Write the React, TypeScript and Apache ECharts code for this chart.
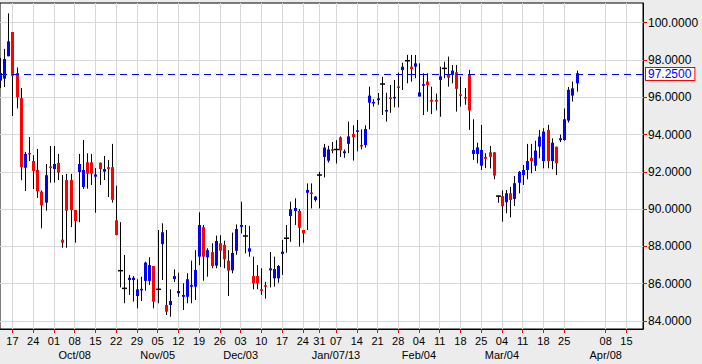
import React, { useEffect, useRef } from "react";
import * as echarts from "echarts";

// calendar of the category axis (trading days)
const firstDay = "2012-09-12";
const lastDay = "2013-04-19";
const holidays = ["2012-12-25", "2013-01-01"];

const weekTicks = [
  "2012-09-17", "2012-09-24", "2012-10-01", "2012-10-08", "2012-10-15", "2012-10-22", "2012-10-29",
  "2012-11-05", "2012-11-12", "2012-11-19", "2012-11-26", "2012-12-03", "2012-12-10", "2012-12-17",
  "2012-12-24", "2012-12-31", "2013-01-07", "2013-01-14", "2013-01-21", "2013-01-28", "2013-02-04",
  "2013-02-11", "2013-02-18", "2013-02-25", "2013-03-04", "2013-03-11", "2013-03-18", "2013-03-25",
  "2013-04-08", "2013-04-15",
];
const monthTickDates = ["2012-10-08", "2012-11-05", "2012-12-03", "2013-01-07", "2013-02-04", "2013-03-04", "2013-04-08"];
const monthTickTexts = ["Oct/08", "Nov/05", "Dec/03", "Jan/07/13", "Feb/04", "Mar/04", "Apr/08"];

const yTicks = [84, 86, 88, 90, 92, 94, 96, 98, 100];
const lastPrice = 97.25;

const opens = [
  96.9, 97.0, 98.2, 99.5, 97.3, 95.95, 92.22, 93.0, 92.58, 92.1,
  90.94, 90.35, 92.28, 92.15, 92.48, 88.36, 91.56, 91.56, 89.95, 91.99,
  91.19, 92.51, 92.51, 91.74, 92.49, 92.01, 92.25, 92.25, 89.4, 86.7,
  85.75, 86.2, 86.2, 85.34, 85.65, 86.15, 86.15, 86.95, 85.7, 88.12,
  84.86, 84.86, 86.25, 85.49, 85.3, 85.3, 85.84, 85.84, 87.45, 89.03,
  87.42, 87.69, 86.97, 88.17, 88.08, 87.24, 86.72, 87.77, 89.05, 88.56,
  87.72, 86.41, 86.41, 85.68, 85.9, 86.72, 86.29, 86.29, 87.6, 88.44,
  89.63, 89.9, 89.9, 88.88, 90.88, 90.87, 90.49, 91.83, 92.8, 92.6,
  93.2, 93.2, 93.85, 93.0, 93.5, 94.03, 94.15, 93.42, 93.44, 95.71,
  95.7, 95.85, 96.71, 95.25, 95.97, 95.96, 96.56, 97.46, 97.96, 97.64,
  97.64, 96.04, 96.64, 96.84, 95.86, 95.86, 96.93, 97.55, 97.2, 97.2,
  97.34, 96.14, 96.0, 97.2, 92.96, 92.96, 92.33, 92.8, 93.05, 93.05,
  90.7, 90.7, 90.37, 90.85, 90.55, 91.42, 91.83, 92.1, 92.75, 92.33,
  93.35, 92.58, 94.25, 92.58, 93.35, 93.7, 93.71, 94.75, 96.09, 96.75,
];
const highs = [
  98.1, 98.6, 100.5, 99.5, 97.6, 96.5, 93.07, 93.87, 92.9, 93.23,
  91.0, 92.42, 93.39, 93.39, 92.96, 91.83, 91.89, 91.89, 89.95, 92.96,
  93.71, 93.0, 92.96, 92.2, 92.5, 92.85, 92.64, 93.5, 91.26, 89.3,
  87.54, 86.47, 86.41, 86.24, 86.37, 87.18, 87.42, 86.95, 88.88, 89.24,
  88.88, 85.7, 86.77, 86.59, 86.02, 86.56, 87.24, 87.8, 89.83, 89.15,
  87.9, 88.17, 88.58, 88.6, 88.31, 87.8, 88.74, 89.18, 90.4, 89.15,
  89.1, 87.45, 87.0, 86.83, 86.1, 87.7, 87.45, 87.0, 88.35, 89.15,
  90.4, 90.58, 90.0, 88.88, 91.38, 91.38, 90.7, 92.0, 93.5, 93.4,
  93.6, 93.7, 93.9, 93.2, 94.7, 94.5, 94.78, 94.28, 94.5, 96.57,
  95.9, 96.23, 97.1, 96.24, 96.66, 96.93, 97.32, 97.85, 98.27, 98.27,
  98.27, 97.82, 97.29, 97.29, 96.57, 96.2, 97.64, 97.91, 98.18, 97.73,
  97.73, 97.1, 96.5, 97.47, 94.82, 93.56, 94.52, 93.0, 93.39, 93.05,
  90.72, 91.0, 91.03, 91.2, 91.78, 92.05, 92.37, 93.5, 93.5, 93.67,
  94.25, 94.34, 94.52, 93.8, 93.35, 94.0, 95.4, 96.55, 96.84, 97.43,
];
const lows = [
  96.5, 96.55, 98.2, 95.0, 95.4, 91.55, 90.97, 92.58, 91.08, 90.6,
  88.97, 89.92, 91.42, 91.42, 91.56, 87.93, 87.93, 89.04, 88.2, 89.3,
  91.08, 91.1, 91.3, 89.81, 91.3, 91.56, 90.65, 90.35, 88.6, 85.8,
  84.95, 85.4, 85.04, 84.68, 85.07, 85.62, 85.93, 84.68, 84.95, 86.2,
  84.32, 84.23, 86.09, 85.3, 84.59, 84.95, 84.95, 85.13, 87.0, 86.16,
  86.38, 86.83, 86.83, 86.9, 86.83, 85.34, 86.56, 87.55, 88.7, 87.63,
  87.45, 85.7, 85.7, 85.4, 85.2, 85.8, 85.84, 86.05, 86.47, 87.66,
  88.25, 89.15, 87.99, 88.2, 88.88, 90.04, 90.4, 90.04, 91.7, 92.5,
  93.0, 92.45, 92.8, 92.75, 93.0, 92.6, 93.1, 93.2, 93.3, 94.28,
  95.5, 95.6, 95.05, 94.7, 95.17, 95.46, 95.46, 96.39, 96.75, 96.84,
  97.02, 96.04, 95.05, 95.23, 95.1, 95.3, 94.96, 97.02, 96.57, 96.75,
  95.23, 95.5, 95.6, 94.25, 92.64, 92.46, 92.1, 92.2, 92.19, 91.6,
  90.35, 89.33, 89.78, 89.56, 90.17, 90.85, 91.3, 91.6, 91.92, 92.05,
  92.73, 92.19, 92.19, 92.14, 91.83, 93.6, 93.67, 94.65, 95.77, 96.3,
];
const closes = [
  97.3, 98.05, 99.0, 97.15, 96.0, 92.25, 92.96, 92.95, 92.05, 90.95,
  90.2, 91.82, 92.22, 92.42, 91.96, 88.2, 89.92, 89.95, 89.36, 92.42,
  92.1, 91.9, 91.9, 91.86, 92.15, 92.15, 92.15, 90.5, 88.61, 86.7,
  85.75, 86.32, 86.32, 85.7, 85.72, 87.13, 87.0, 85.04, 85.7, 88.76,
  84.5, 85.07, 86.41, 85.61, 85.39, 86.24, 85.93, 86.74, 89.15, 87.45,
  87.8, 86.95, 88.29, 87.77, 87.31, 86.7, 87.65, 88.93, 89.15, 88.56,
  87.9, 86.02, 86.02, 85.64, 85.86, 86.82, 86.79, 86.95, 87.72, 88.44,
  89.99, 90.06, 89.0, 88.7, 91.03, 90.83, 90.67, 91.83, 93.3, 93.2,
  93.15, 93.2, 93.15, 93.1, 93.9, 93.86, 94.22, 93.38, 94.3, 96.09,
  95.72, 95.94, 96.71, 95.3, 95.93, 96.0, 96.52, 97.64, 97.96, 97.52,
  97.82, 96.26, 96.68, 96.66, 95.77, 95.77, 97.12, 97.55, 97.05, 97.43,
  96.45, 96.1, 95.95, 95.29, 93.17, 93.31, 93.17, 92.7, 92.81, 91.8,
  90.7, 90.16, 90.85, 90.49, 91.39, 92.0, 92.1, 92.58, 92.58, 93.14,
  93.89, 94.16, 92.58, 93.56, 92.46, 93.8, 94.82, 96.4, 96.48, 97.29,
];

function buildDays(): string[] {
  const out: string[] = [];
  const d = new Date(firstDay + "T00:00:00Z");
  const end = new Date(lastDay + "T00:00:00Z");
  while (d.getTime() <= end.getTime()) {
    const s = d.toISOString().slice(0, 10);
    const wd = d.getUTCDay();
    if (wd !== 0 && wd !== 6 && holidays.indexOf(s) < 0) out.push(s);
    d.setUTCDate(d.getUTCDate() + 1);
  }
  return out;
}

export default function App() {
  const ref = useRef<HTMLDivElement>(null);
  useEffect(() => {
    if (!ref.current) return;
    const chart = echarts.init(ref.current, null, { renderer: "svg" });
    const days = buildDays();
    const tickSet = new Set(weekTicks);
    const monthMap: Record<string, string> = {};
    monthTickDates.forEach((d, i) => (monthMap[d] = monthTickTexts[i]));
    const isTick = (_i: number, v: string) => tickSet.has(v);
    const isMonth = (_i: number, v: string) => monthMap[v] !== undefined;
    const candles = opens.map((o, i) => [i, o, closes[i], lows[i], highs[i]]);
    const font = "Liberation Sans, Arial, sans-serif";

    chart.setOption({
      animation: false,
      backgroundColor: "#ececec",
      grid: {
        left: 0,
        top: 3,
        right: 59,
        bottom: 35,
        show: true,
        backgroundColor: "#ffffff",
        borderColor: "#000000",
        borderWidth: 1,
      },
      xAxis: [
        {
          type: "category",
          data: days,
          boundaryGap: false,
          min: 0,
          max: 154.5,
          axisLine: { show: true, lineStyle: { color: "#000000", width: 1 } },
          axisTick: { show: true, interval: isTick, length: 4, lineStyle: { color: "#ff0000" } },
          axisLabel: {
            interval: isTick,
            formatter: (v: string) => v.slice(8),
            color: "#000000",
            fontSize: 11,
            fontFamily: font,
            margin: 6,
          },
          splitLine: { show: true, interval: isTick, lineStyle: { color: "#d8d8d8", width: 1 } },
        },
        {
          type: "category",
          data: days,
          boundaryGap: false,
          min: 0,
          max: 154.5,
          position: "bottom",
          axisLine: { show: false },
          axisTick: { show: false },
          axisLabel: {
            interval: isMonth,
            formatter: (v: string) => monthMap[v] || "",
            color: "#000000",
            fontSize: 11,
            fontFamily: font,
            margin: 20,
          },
          splitLine: { show: false },
        },
      ],
      yAxis: {
        type: "value",
        position: "right",
        min: 83.571,
        max: 101.057,
        minInterval: 2,
        maxInterval: 2,
        splitNumber: 9,
        axisLine: { show: true, lineStyle: { color: "#000000" } },
        axisTick: { show: true, length: 4, customValues: yTicks, lineStyle: { color: "#ff0000" } },
        axisLabel: {
          customValues: yTicks,
          formatter: (v: number) => v.toFixed(4),
          color: "#000000",
          fontSize: 12,
          fontFamily: font,
          margin: 5,
        },
        splitLine: { show: true, lineStyle: { color: "#d8d8d8", width: 1 } },
      },
      series: [
        {
          type: "custom",
          xAxisIndex: 0,
          yAxisIndex: 0,
          data: candles,
          encode: { x: 0, y: [1, 2, 3, 4] },
          clip: true,
          renderItem: (_params: any, api: any) => {
            const i = api.value(0);
            const o = api.value(1);
            const c = api.value(2);
            const l = api.value(3);
            const h = api.value(4);
            const pO = api.coord([i, o]);
            const pC = api.coord([i, c]);
            const pL = api.coord([i, l]);
            const pH = api.coord([i, h]);
            const x = Math.round(pO[0]);
            const color = c > o ? "#0000ff" : c < o ? "#ff0000" : "#000000";
            let top = Math.min(pO[1], pC[1]);
            let hgt = Math.abs(pO[1] - pC[1]);
            if (hgt < 1.5) {
              top = (pO[1] + pC[1]) / 2 - 0.75;
              hgt = 1.5;
            }
            const doji = c === o;
            return {
              type: "group",
              children: [
                {
                  type: "line",
                  shape: { x1: x + 0.5, y1: pH[1], x2: x + 0.5, y2: pL[1] },
                  style: { stroke: "#000000", lineWidth: 1 },
                },
                {
                  type: "rect",
                  shape: { x: doji ? x - 2 : x - 1, y: top, width: doji ? 5 : 3, height: hgt },
                  style: { fill: color },
                },
              ],
            };
          },
          markLine: {
            silent: true,
            symbol: ["none", "none"],
            data: [{ yAxis: lastPrice }],
            lineStyle: { color: "#0000ff", type: [7, 5], width: 1 },
            label: {
              show: true,
              position: "end",
              distance: 3,
              formatter: () => lastPrice.toFixed(4),
              color: "#0000ff",
              backgroundColor: "#ffffff",
              borderColor: "#ff0000",
              borderWidth: 1,
              padding: [0, 3, 0, 2],
              fontSize: 12,
              fontFamily: font,
            },
          },
        },
      ],
    });
    return () => chart.dispose();
  }, []);
  return (
    <div
      ref={ref}
      style={{ position: "absolute", left: 0, top: 0, width: 702, height: 364 }}
    />
  );
}
